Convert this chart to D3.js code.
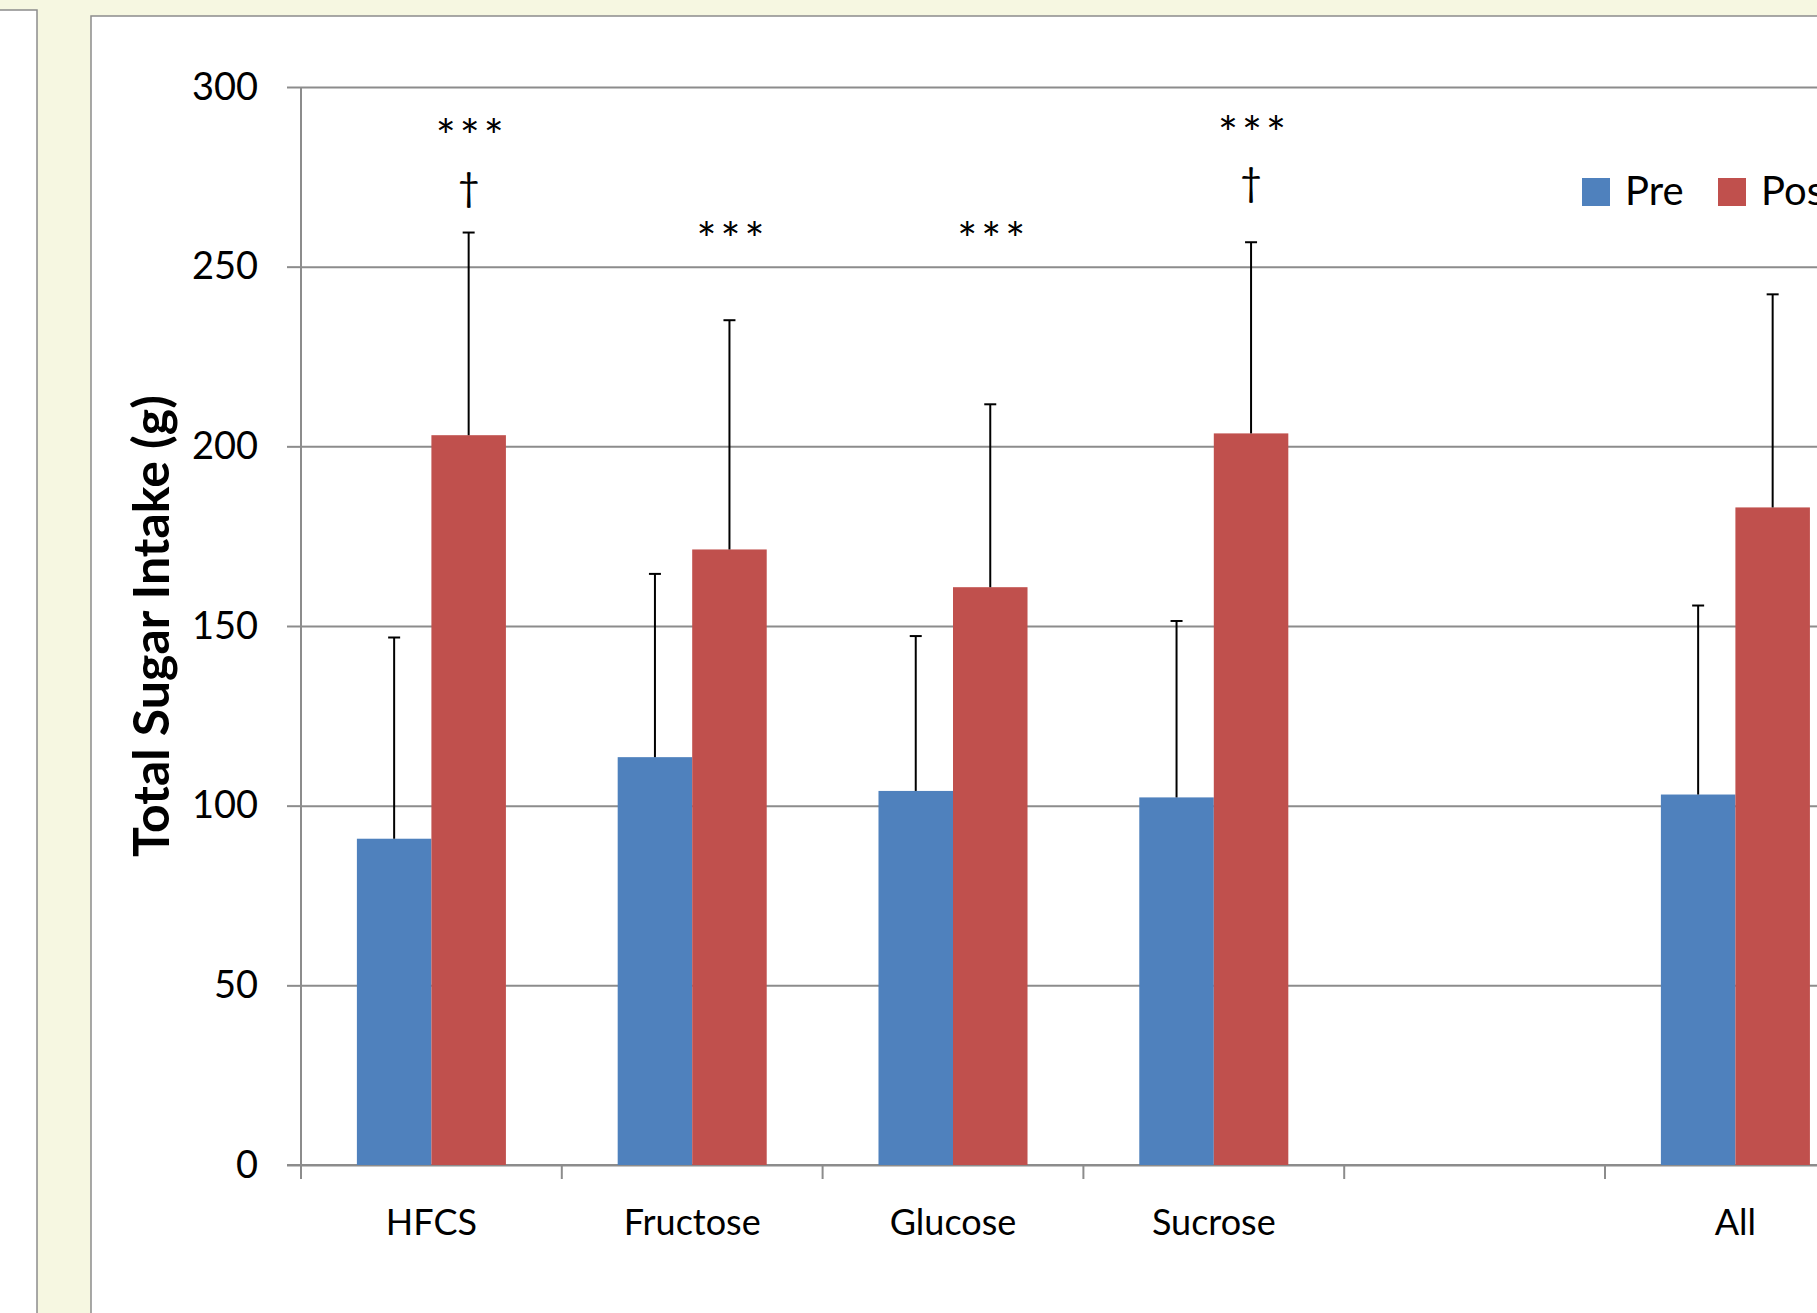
<!DOCTYPE html>
<html>
<head>
<meta charset="utf-8">
<script src="https://cdn.jsdelivr.net/npm/d3@7"></script>
<style>
  body { margin: 0; background: #f6f7e1; overflow: hidden; }
  text { font-family: Lato, 'Open Sans', sans-serif; fill: #000; }
</style>
</head>
<body>
<div id="chart"></div>
<script>
// chart data
const categories = ['HFCS', 'Fructose', 'Glucose', 'Sucrose', ' ', 'All'];
const series = ['Pre', 'Post'];
const preMeans = [90.8, 113.5, 104.1, 102.3, null, 103.1];
const preSD = [56.0, 51.0, 43.1, 49.1, null, 52.6];
const postMeans = [203.1, 171.3, 160.8, 203.6, null, 183.0];
const postSD = [56.4, 63.8, 50.9, 53.2, null, 59.3];
const yTicks = [0, 50, 100, 150, 200, 250, 300];
// significance marks over the Post bars
const markCategory = ['HFCS', 'HFCS', 'Fructose', 'Glucose', 'Sucrose', 'Sucrose'];
const markText = ['***', '†', '***', '***', '***', '†'];
const markLevel = [291, 272, 262.5, 262.5, 292, 273.3];

const colors = { Pre: '#4f81bd', Post: '#c0504d' };

// layout
const svgWidth = 1817;
const svgHeight = 1313;
const plot = { left: 301, top: 87, bottom: 1165, step: 260.8 };

const svg = d3.select('#chart')
  .append('svg')
  .attr('width', svgWidth)
  .attr('height', svgHeight);

// frames behind the chart
svg.append('rect')
  .attr('x', -2).attr('y', 10).attr('width', 39).attr('height', svgHeight)
  .attr('fill', '#fff').attr('stroke', '#8c8c8c').attr('stroke-width', 1.5);
svg.append('rect')
  .attr('x', 91).attr('y', 16).attr('width', svgWidth).attr('height', svgHeight)
  .attr('fill', '#fff').attr('stroke', '#8c8c8c').attr('stroke-width', 1.5);

// scales
const x = d3.scaleBand()
  .domain(categories)
  .range([plot.left, plot.left + plot.step * categories.length]);
const xSub = d3.scaleBand()
  .domain(series)
  .range([0, x.bandwidth()])
  .paddingOuter(0.75);
const y = d3.scaleLinear()
  .domain([0, 300])
  .range([plot.bottom, plot.top]);

// gridlines
const grid = svg.append('g')
  .attr('transform', `translate(${plot.left}, 0)`)
  .call(d3.axisLeft(y).tickValues(yTicks).tickSize(-(svgWidth - plot.left + 10)).tickFormat(''));
grid.select('.domain').remove();
grid.selectAll('line').attr('stroke', '#8c8c8c').attr('stroke-width', 2);

// y axis
const yAxis = svg.append('g')
  .attr('transform', `translate(${plot.left}, 0)`)
  .call(d3.axisLeft(y).tickValues(yTicks).tickSize(14).tickSizeOuter(0).tickPadding(29));
yAxis.select('.domain').attr('stroke', '#8c8c8c').attr('stroke-width', 2)
  .attr('d', `M0,${plot.top}V${plot.bottom + 14}`);
yAxis.selectAll('line').attr('stroke', '#8c8c8c').attr('stroke-width', 2);
yAxis.selectAll('text').attr('font-size', 38).attr('font-family', 'Lato');

// x axis: labels at band centers, ticks at band edges
const xAxis = svg.append('g')
  .attr('transform', `translate(0, ${plot.bottom})`)
  .call(d3.axisBottom(x).tickSize(0).tickPadding(44));
xAxis.select('.domain').attr('stroke', '#8c8c8c').attr('stroke-width', 2)
  .attr('d', `M${plot.left - 14},0H${svgWidth + 10}`);
xAxis.selectAll('text').attr('font-size', 36).attr('font-family', 'Lato');
xAxis.selectAll('.edge')
  .data(categories)
  .enter()
  .append('line')
  .classed('edge', true)
  .attr('x1', d => x(d)).attr('x2', d => x(d))
  .attr('y1', 0).attr('y2', 14)
  .attr('stroke', '#8c8c8c').attr('stroke-width', 2);

// bars
const barData = [];
categories.forEach((c, i) => {
  if (preMeans[i] != null) barData.push({ cat: c, s: 'Pre', v: preMeans[i], e: preSD[i] });
  if (postMeans[i] != null) barData.push({ cat: c, s: 'Post', v: postMeans[i], e: postSD[i] });
});

svg.append('g').selectAll('rect')
  .data(barData)
  .enter()
  .append('rect')
  .attr('x', d => x(d.cat) + xSub(d.s))
  .attr('y', d => y(d.v))
  .attr('width', xSub.bandwidth())
  .attr('height', d => y(0) - y(d.v))
  .attr('fill', d => colors[d.s]);

// error bars (upper only)
const errs = svg.append('g').selectAll('g')
  .data(barData)
  .enter()
  .append('g')
  .attr('transform', d => `translate(${x(d.cat) + xSub(d.s) + xSub.bandwidth() / 2}, 0)`);
errs.append('line')
  .attr('x1', 0).attr('x2', 0)
  .attr('y1', d => y(d.v)).attr('y2', d => y(d.v + d.e))
  .attr('stroke', '#000').attr('stroke-width', 2);
errs.append('line')
  .attr('x1', -6).attr('x2', 6)
  .attr('y1', d => y(d.v + d.e)).attr('y2', d => y(d.v + d.e))
  .attr('stroke', '#000').attr('stroke-width', 2);

// significance marks
svg.append('g').selectAll('text')
  .data(markText)
  .enter()
  .append('text')
  .attr('x', (d, i) => x(markCategory[i]) + xSub('Post') + xSub.bandwidth() / 2 + (d === '***' ? 3 : 0))
  .attr('y', (d, i) => y(markLevel[i]))
  .attr('dy', (d) => d === '***' ? '0.72em' : '0.35em')
  .attr('text-anchor', 'middle')
  .attr('font-size', d => d === '***' ? 47 : 38)
  .attr('letter-spacing', d => d === '***' ? 4 : 0)
  .text(d => d);

// y axis title
svg.append('text')
  .attr('transform', `translate(169, ${(plot.top + plot.bottom) / 2}) rotate(-90)`)
  .attr('text-anchor', 'middle')
  .attr('font-size', 50)
  .attr('font-weight', 'bold')
  .text('Total Sugar Intake (g)');

// legend
const legend = svg.append('g')
  .attr('transform', 'translate(1582, 178)');
const legendItem = legend.selectAll('g')
  .data(series)
  .enter()
  .append('g')
  .attr('transform', (d, i) => `translate(${i * 136}, 0)`);
legendItem.append('rect')
  .attr('width', 28).attr('height', 28)
  .attr('fill', d => colors[d]);
legendItem.append('text')
  .attr('x', 43).attr('y', 27)
  .attr('font-size', 40)
  .text(d => d);
</script>
</body>
</html>
